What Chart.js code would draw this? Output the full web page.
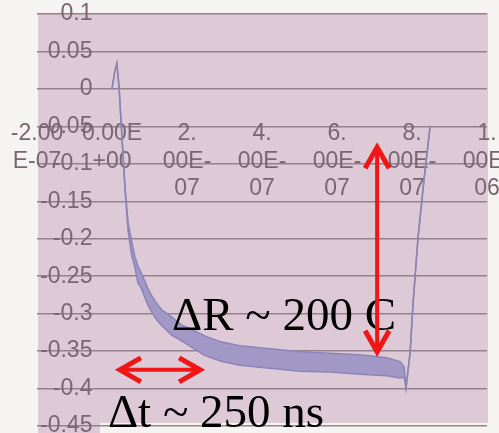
<!DOCTYPE html>
<html>
<head>
<meta charset="utf-8">
<script src="https://cdn.jsdelivr.net/npm/chart.js@4/dist/chart.umd.min.js"></script>
<style>
  html, body { margin: 0; padding: 0; background: #f6f3f3; }
  canvas { display: block; }
</style>
</head>
<body>
<canvas id="pulseChart" width="499" height="433"></canvas>
<script>
// time in ns, signal envelope (top / bottom of the noisy trace)
const timeNs = [0, 8, 13, 19, 27, 35, 43, 53, 61, 69, 78, 88, 97, 107, 120, 133, 160, 185, 213, 248, 293, 341, 421, 501, 581, 661, 733, 768, 779, 784, 795, 803, 816, 832, 848];
const signalHigh = [0, 0.025, 0.034, 0.001, -0.066, -0.132, -0.179, -0.205, -0.224, -0.236, -0.246, -0.257, -0.268, -0.277, -0.287, -0.295, -0.305, -0.315, -0.321, -0.330, -0.338, -0.343, -0.347, -0.351, -0.353, -0.355, -0.359, -0.364, -0.371, -0.399, -0.352, -0.285, -0.199, -0.121, -0.051];
const signalLow = [0, 0.025, 0.034, 0.001, -0.070, -0.138, -0.190, -0.224, -0.238, -0.259, -0.266, -0.279, -0.290, -0.299, -0.309, -0.316, -0.329, -0.336, -0.345, -0.356, -0.364, -0.369, -0.373, -0.377, -0.378, -0.381, -0.383, -0.386, -0.385, -0.399, -0.352, -0.285, -0.199, -0.121, -0.051];

// x tick labels, wrapped the way the spreadsheet wrapped them
const timeTicks = [-200, 0, 200, 400, 600, 800, 1000];
const timeTickLabels = [
  ['-2.00', 'E-07'],
  ['0.00E', '+00'],
  ['2.', '00E-', '07'],
  ['4.', '00E-', '07'],
  ['6.', '00E-', '07'],
  ['8.', '00E-', '07'],
  ['1.', '00E-', '06']
];

const gridColor = '#95808d';
const tickColor = '#7b6573';
const tickFont = { family: '"Liberation Sans", Arial, sans-serif', size: 23, lineHeight: 1.2 };

const toPoints = (vals) => vals.map((v, i) => ({ x: timeNs[i], y: v }));

// scanned paper backdrop behind the plot
const paperPlugin = {
  id: 'paper',
  beforeDraw(chart) {
    const { ctx, width, height } = chart;
    ctx.save();
    ctx.fillStyle = '#f6f3f3';
    ctx.fillRect(0, 0, width, height);
    ctx.fillStyle = '#ddcad6';
    ctx.fillRect(38, 13, 450, 410);
    ctx.fillRect(38, 423, 62, 10);
    ctx.restore();
  }
};

function doubleArrow(ctx, x1, y1, x2, y2) {
  const len = Math.hypot(x2 - x1, y2 - y1);
  const ux = (x2 - x1) / len, uy = (y2 - y1) / len;
  const px = -uy, py = ux;
  const head = 21, half = 12;
  ctx.lineWidth = 4;
  ctx.beginPath();
  ctx.moveTo(x1 + ux * 2, y1 + uy * 2);
  ctx.lineTo(x2 - ux * 2, y2 - uy * 2);
  ctx.stroke();
  ctx.lineWidth = 5;
  ctx.beginPath();
  ctx.moveTo(x1 + ux * head + px * half, y1 + uy * head + py * half);
  ctx.lineTo(x1, y1);
  ctx.lineTo(x1 + ux * head - px * half, y1 + uy * head - py * half);
  ctx.moveTo(x2 - ux * head + px * half, y2 - uy * head + py * half);
  ctx.lineTo(x2, y2);
  ctx.lineTo(x2 - ux * head - px * half, y2 - uy * head - py * half);
  ctx.stroke();
}

// ΔR / Δt callouts in red with their captions
const calloutPlugin = {
  id: 'callouts',
  afterDatasetsDraw(chart) {
    const { ctx, scales: { x, y } } = chart;
    ctx.save();
    ctx.fillStyle = '#000';
    ctx.font = '47px "Liberation Serif", "Times New Roman", serif';
    ctx.textAlign = 'left';
    ctx.textBaseline = 'alphabetic';
    ctx.fillText('ΔR ~ 200 C', x.getPixelForValue(160), y.getPixelForValue(-0.322));
    ctx.fillText('Δt ~ 250 ns', x.getPixelForValue(-11), y.getPixelForValue(-0.451));

    ctx.strokeStyle = '#f01616';
    ctx.lineJoin = 'miter';
    ctx.lineCap = 'butt';
    doubleArrow(ctx, x.getPixelForValue(707), y.getPixelForValue(-0.078), x.getPixelForValue(707), y.getPixelForValue(-0.351));
    doubleArrow(ctx, x.getPixelForValue(21), y.getPixelForValue(-0.375), x.getPixelForValue(235), y.getPixelForValue(-0.375));
    ctx.restore();
  }
};

new Chart(document.getElementById('pulseChart').getContext('2d'), {
  type: 'line',
  data: {
    datasets: [{
      data: toPoints(signalHigh),
      borderColor: '#8c84b8',
      borderWidth: 1.5,
      pointRadius: 0,
      tension: 0,
      fill: false
    }, {
      data: toPoints(signalLow),
      borderColor: '#8c84b8',
      borderWidth: 1.5,
      backgroundColor: '#a198c6',
      pointRadius: 0,
      tension: 0,
      fill: '-1'
    }]
  },
  options: {
    responsive: false,
    animation: false,
    layout: { padding: { top: 14, bottom: 7, left: 0, right: 12 } },
    plugins: {
      legend: { display: false },
      tooltip: { enabled: false }
    },
    scales: {
      x: {
        type: 'linear',
        position: { y: 0 },
        min: -200,
        max: 1000,
        afterBuildTicks(scale) {
          scale.ticks = timeTicks.map(v => ({ value: v }));
        },
        afterFit(scale) {
          scale.paddingLeft = 0;
          scale.paddingRight = 0;
        },
        grid: { display: false },
        border: { display: false },
        ticks: {
          autoSkip: false,
          maxRotation: 0,
          minRotation: 0,
          padding: 23,
          color: tickColor,
          font: tickFont,
          callback: (value) => timeTickLabels[timeTicks.indexOf(value)]
        }
      },
      y: {
        min: -0.45,
        max: 0.1,
        afterFit(scale) {
          scale.width = 37;
          scale.paddingTop = 0;
          scale.paddingBottom = 0;
        },
        grid: { color: gridColor, lineWidth: 1.5, drawTicks: false },
        border: { display: false },
        ticks: {
          stepSize: 0.05,
          mirror: true,
          crossAlign: 'far',
          padding: 3,
          color: tickColor,
          font: tickFont,
          callback: (value) => String(parseFloat(value.toFixed(2)))
        }
      }
    }
  },
  plugins: [paperPlugin, calloutPlugin]
});
</script>
</body>
</html>
